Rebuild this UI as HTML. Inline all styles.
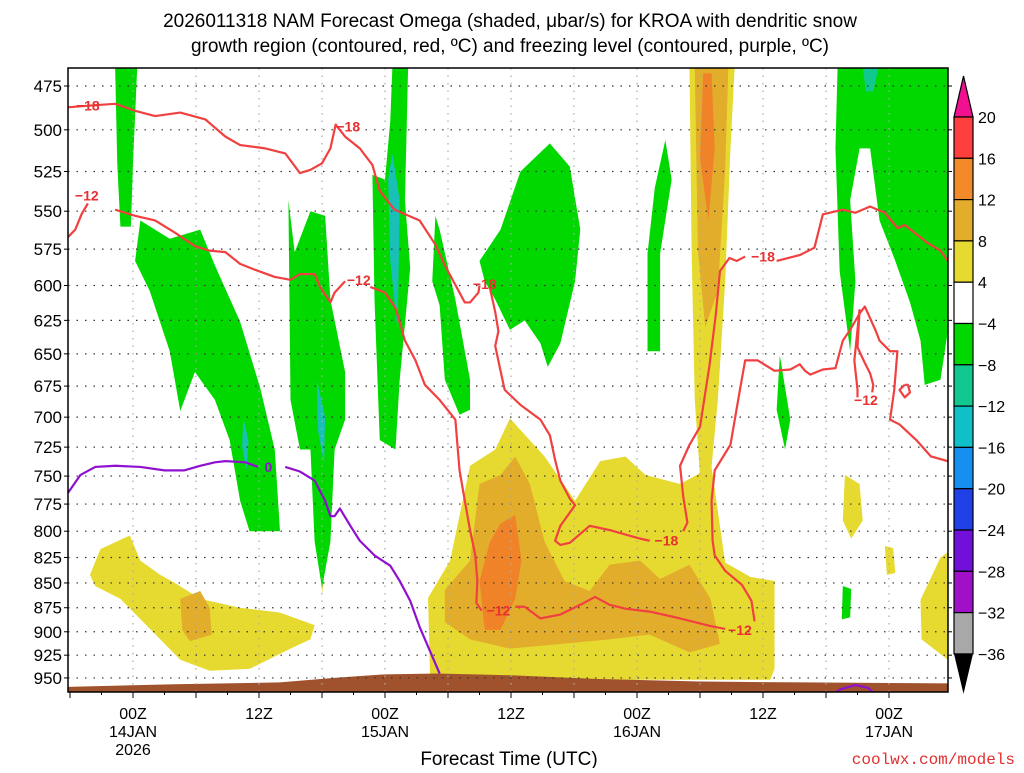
<!DOCTYPE html>
<html><head><meta charset="utf-8"><style>
body{margin:0;background:#fff;width:1024px;height:768px;overflow:hidden}
svg{font-family:"Liberation Sans",sans-serif}
</style></head><body>
<svg id="chart" width="1024" height="768" xmlns="http://www.w3.org/2000/svg">
<text x="510" y="27" text-anchor="middle" font-size="19">2026011318 NAM Forecast Omega (shaded, μbar/s) for KROA with dendritic snow</text>
<text x="510" y="52" text-anchor="middle" font-size="19">growth region (contoured, red, ºC) and freezing level (contoured, purple, ºC)</text>
<g id="fills"></g><g id="grid"></g><g id="contours"></g><g id="axes"></g><g id="cbar"></g>
<text x="509" y="765" text-anchor="middle" font-size="19">Forecast Time (UTC)</text>
<text x="1015" y="764" text-anchor="end" font-size="16" fill="#e03030" font-family="Liberation Mono, monospace">coolwx.com/models</text>
</svg>
<script>
const NS='http://www.w3.org/2000/svg';
const pressureTicks=[475,500,525,550,575,600,625,650,675,700,725,750,775,800,825,850,875,900,925,950];
const timeTicks=[6,18,30,42,54,66,78];
const timeLabels=[['00Z','14JAN','2026'],['12Z'],['00Z','15JAN'],['12Z'],['00Z','16JAN'],['12Z'],['00Z','17JAN']];
const cbarLevels=[20,16,12,8,4,-4,-8,-12,-16,-20,-24,-28,-32,-36];
const cbarColors=['#ff3e3e','#f28a2a','#e3ad2c','#e6da30','#ffffff','#00d800','#10c890','#10c0c8','#1590f0','#2040e8','#7010d8','#a010c8','#a8a8a8'];
// shaded regions: [color, hours[], pressures[]]
const regGreen1H=[4.3,6.4,6.0,5.8,4.8,4.5], regGreen1P=[465,465,520,560,560,520];
const regGreen2H=[6.7,9.5,12.4,13.8,16.2,18.1,19.5,20,17.1,16.2,15.2,13.8,11.9,10.5,9.5,7.6,6.2], regGreen2P=[556,568,562,586,626,676,727,800,800,772,719,686,664,695,648,604,583];
const regGreen3H=[20.8,21.4,22.9,24.3,24.8,26.2,26.2,25.2,24.8,24,23.3,22.9,21.9,21], regGreen3P=[543,577,550,553,610,664,702,727,810,855,810,727,727,686];
const regGreen4H=[30.7,32.2,31.9,32.4,31.4,31,29.5,29,28.8,30,30.5], regGreen4P=[465,465,543,588,670,727,719,610,527,530,495];
const regGreen5H=[34.8,35.2,36.7,38.1,38.1,37.1,35.7,35.2,34.5], regGreen5P=[553,562,610,670,694,698,670,614,597];
const regGreen6H=[41,42.9,45.7,47.6,48.6,48.1,46.7,45.5,44.8,43.3,41.9,40.5,39.5,39], regGreen6P=[562,525,508,522,562,597,642,660,642,625,632,610,597,583];
const regGreen7H=[56.7,57.3,56.2,56.2,55,55,55.7], regGreen7P=[506,530,578,648,648,578,535];
const regGreen8H=[73.1,83.6,83.6,82.9,81.4,81,80,78.6,77.1,76.2,75.2,74.3,74.8,74.3,73.3,72.9], regGreen8P=[465,465,633,670,674,640,612,583,556,511,511,543,597,648,590,511];
const regGreen9H=[67.6,68.6,68.1,67.3], regGreen9P=[651,702,727,694];
const regGreen10H=[73.6,74.4,74.3,73.5], regGreen10P=[853,856,885,887];
const regCyan1H=[30.7,31.4,31.2,30.5,30.3], regCyan1P=[514,543,633,583,530];
const regCyan2H=[16.5,17,16.8,16.4], regCyan2P=[700,720,745,725];
const regCyan3H=[23.5,24.3,24.2,23.6], regCyan3P=[670,700,740,710];
const regTealH=[75.5,77,76.5,75.8], regTealP=[465,465,478,478];
const regYel1H=[59,63.3,62.9,62.4,61.7,61.1,60,59.5,59.2], regYel1P=[465,465,511,597,686,742,750,686,576];
const regYel2H=[34.3,34.1,36.2,38.1,40.5,41.9,45.2,48.1,50.5,52.9,54.8,58.1,61.1,62.4,64.8,67.1,67.1,66.7], regYel2P=[952,865,828,741,727,701,733,772,737,733,749,757,742,830,844,848,940,952];
const regYel3H=[1.9,2.9,5.7,6.7,8.6,10,12.4,16.2,20,23.3,22.9,21,17.1,13.3,10.5,8.6,4.8,2.4], regYel3P=[842,817,804,828,842,850,866,875,880,893,908,918,940,942,930,908,866,853];
const regYel4H=[73.8,75.2,75.5,74.4,73.6], regYel4P=[749,757,790,807,790];
const regYel5H=[77.6,78.4,78.6,77.8], regYel5P=[814,816,840,842];
const regYel6H=[82.9,83.6,83.6,81.1,81], regYel6P=[825,820,930,908,867];
const regYel7H=[23.8,24.2,24.0], regYel7P=[818,845,862];
const regAmb1H=[10.5,12.4,13.3,13.5,11.4,10.7], regAmb1P=[866,858,875,903,910,898];
const regAmb2H=[59.5,62.7,62.4,61.7,60.5,59.8], regAmb2P=[465,465,524,604,630,576];
const regAmb3H=[39,41,42.4,43.8,45.2,47.1,49.5,51.4,54.3,56.2,59,61,61.9,59,55.2,51.4,46.7,41.9,38.1,35.7,35.7,38.1], regAmb3P=[757,749,733,757,810,848,858,832,828,846,832,866,913,922,903,908,913,918,908,890,857,828];
const regOr1H=[40,41,42.4,43,42.4,41,39.5,39], regOr1P=[810,793,785,828,866,898,898,848];
const regOr2H=[60.3,61.1,61.4,60.8,60], regOr2P=[468,468,511,556,517];
const groundH=[-0.2,10,20,25,30,35,42,50,60,70,83.6,83.6,-0.2], groundP=[960,957,955,950,946,945,947,951,954,955,956,968,968];
// contours
const c18aH=[-0.2,1.9,4.3,6.2,8.1,10.5,12.9,14.8,16.2,18.6,20.5,21.9,22.9,24,24.8,25.3,26.2,27.6,28.8,29.5,30.9,33.3,34.8,35.7,37.6,38.1,38.9,39.0], c18aP=[487,486,485,489,492,490,494,504,509,511,514,526,524,520,511,497,504,511,521,537,549,556,572,586,612,612,605,600];
const c18bH=[40.0,40.5,40.8,40.5,41,41.4,42.9,44.8,45.7,46.2,46.7,47.6,48.1,46.7,46.2,46.7,47.6,49.5,51.4,54.3,55.2], c18bP=[602,619,633,644,663,678,690,702,715,736,754,770,776,795,809,813,811,795,799,807,809];
const c18cH=[58.4,58.8,58.4,58.1,59.0,60,60.9,61.5,61.9,62.8,63.5,64.3], c18cP=[800,792,768,741,723,708,659,621,590,581,583,580];
const c18dH=[67.3,69.5,70.9,71.7,73.6,74.8,76.2,77.6,78.8,79.5,81.7,82.9,83.6], c18dP=[583,579,574,552,549,551,547,551,561,559,571,576,583];
const c12aH=[-0.2,0.5,1.1,1.7], c12aP=[567,562,552,545];
const c12bH=[4.3,6.2,8.1,10,11.9,13.3,14.8,16.2,17.6,19.5,21,21.9,23.3,23.8,24.8,25.2,26.2], c12bP=[549,553,556,564,573,576,577,585,589,594,596,592,592,601,612,605,597];
const c12cH=[28.6,30,31,31.9,32.9,33.8,35.2,36.7,37.1,37.6,38.1,38.6,38.8,38.7,39.2], c12cP=[601,605,616,640,655,674,686,702,745,772,799,823,848,870,878];
const c12dH=[42.4,43.3,44.8,46.7,48.6,50,51.4,52.9,55.2,58.1,61,62.4], c12dP=[874,874,886,882,872,864,872,876,879,886,894,897];
const c12eH=[65.2,64.9,64,62.4,61.4,61.2,61.1,61.4,62.9,63.8,64.3,65.5,67.1,68.6,69.5,70,70.5,71.7,72.9,73.6,74.3,75.2,75.7,76.7,77.1,78.1,78.8,78.5,78.1,79,80.6,82,83.6], c12eP=[889,868,852,838,823,809,772,745,723,678,655,655,663,662,658,663,666,662,661,640,632,620,615,632,640,648,648,678,702,706,719,733,737];
const c12fH=[75.2,74.7,75.0,75.0], c12fP=[617,655,678,684];
const c12gH=[76.4,76.5,76.2,75.7,75.0,75.2], c12gP=[680,674,665,657,645,617];
const c12hH=[79.5,79.0,79.5,80,79.8,79.5], c12hP=[674,678,684,680,674,674];
const c0aH=[-0.2,1,2.4,4.3,6.7,9,10.9,12.4,13.8,14.8,16.7,17.9], c0aP=[765,749,742,741,742,745,745,741,738,737,738,742];
const c0bH=[20.5,21.9,23.3,24.3,24.8,25.2,25.7,26.7,27.6,29,30.5,31.4,32.4,33.3,34.3,35.2], c0bP=[742,746,754,772,786,786,779,795,809,823,833,848,868,895,921,945];
const c0cH=[72.4,73.3,74.8,76,77], c0cP=[972,963,958,961,972];
const contourLabels=[['-18',1.7,486,'#e83030'],['-18',26.5,498,'#e83030'],['-12',1.6,540,'#e83030'],['-12',27.5,596,'#e83030'],['-18',39.5,599,'#e83030'],['-12',40.8,878,'#e83030'],['-18',56.8,809,'#e83030'],['-12',63.8,898,'#e83030'],['-18',66.0,580,'#e83030'],['-12',75.8,686,'#e83030'],['0',18.9,742,'#9010d0']];

const X0=70, PXH=10.5, L=68, R=948, T=68, B=692;
const xs=h=>X0+h*PXH;
const ys=p=>86+854*Math.log(p/475);
function el(tag,attrs,parent){const e=document.createElementNS(NS,tag);for(const k in attrs)e.setAttribute(k,attrs[k]);parent.appendChild(e);return e;}
const clip=el('clipPath',{id:'pc'},document.getElementById('chart'));
el('rect',{x:L,y:T,width:R-L,height:B-T},clip);
const fills=document.getElementById('fills');fills.setAttribute('clip-path','url(#pc)');
function poly(H,P,color,name){const e=el('polygon',{points:H.map((h,i)=>xs(h)+','+ys(P[i])).join(' '),fill:color},fills);

}
const G='#00d800',Y='#e6da30',A='#e3ad2c',O='#f08328',C='#18c0b8',TE='#10c890';
poly(regYel1H,regYel1P,Y,'omega-region');poly(regYel2H,regYel2P,Y,'omega-region');poly(regYel3H,regYel3P,Y,'omega-region');
poly(regYel4H,regYel4P,Y,'omega-region');poly(regYel5H,regYel5P,Y,'omega-region');poly(regYel6H,regYel6P,Y,'omega-region');poly(regYel7H,regYel7P,Y,'omega-region');
poly(regAmb1H,regAmb1P,A,'omega-region');poly(regAmb2H,regAmb2P,A,'omega-region');poly(regAmb3H,regAmb3P,A,'omega-region');
poly(regOr1H,regOr1P,O,'omega-region');poly(regOr2H,regOr2P,O,'omega-region');
[[regGreen1H,regGreen1P],[regGreen2H,regGreen2P],[regGreen3H,regGreen3P],[regGreen4H,regGreen4P],[regGreen5H,regGreen5P],[regGreen6H,regGreen6P],[regGreen7H,regGreen7P],[regGreen8H,regGreen8P],[regGreen9H,regGreen9P],[regGreen10H,regGreen10P]].forEach(r=>poly(r[0],r[1],G,'omega-region'));
poly(regCyan1H,regCyan1P,C,'omega-region');poly(regCyan2H,regCyan2P,C,'omega-region');poly(regCyan3H,regCyan3P,C,'omega-region');poly(regTealH,regTealP,TE,'omega-region');
poly(groundH,groundP,'#a0522d','terrain-ground');
// grid
const grid=document.getElementById('grid');
pressureTicks.forEach(p=>{const l=el('line',{x1:L,x2:R,y1:ys(p),y2:ys(p),stroke:'#333','stroke-width':1.2,'stroke-dasharray':'1.5 7'},grid);

});
for(let h=6;h<=78;h+=6){const l=el('line',{x1:xs(h),x2:xs(h),y1:T,y2:B,stroke:'#aaa','stroke-width':1.2,'stroke-dasharray':'1.5 6'},grid);

}
// contours
const cg=document.getElementById('contours');cg.setAttribute('clip-path','url(#pc)');
function line(H,P,color,name){const e=el('polyline',{points:H.map((h,i)=>xs(h)+','+ys(P[i])).join(' '),fill:'none',stroke:color,'stroke-width':2.2,'stroke-linejoin':'round'},cg);

}
const RC='#f04040',PC='#9010d0';
[[c18aH,c18aP],[c18bH,c18bP],[c18cH,c18cP],[c18dH,c18dP]].forEach(c=>line(c[0],c[1],RC,'contour-minus18'));
[[c12aH,c12aP],[c12bH,c12bP],[c12cH,c12cP],[c12dH,c12dP],[c12eH,c12eP],[c12fH,c12fP],[c12gH,c12gP],[c12hH,c12hP]].forEach(c=>line(c[0],c[1],RC,'contour-minus12'));
[[c0aH,c0aP],[c0bH,c0bP],[c0cH,c0cP]].forEach(c=>line(c[0],c[1],PC,'freezing-level-contour'));
contourLabels.forEach(c=>{const t=el('text',{x:xs(c[1]),y:ys(c[2])+5,'text-anchor':'middle','font-size':14,'font-weight':'bold',fill:c[3]},document.getElementById('chart'));t.textContent=c[0].replace('-','−');

});
// axes
const ax=document.getElementById('axes');
const fr=el('rect',{x:L,y:T,width:R-L,height:B-T,fill:'none',stroke:'#000','stroke-width':1.5},ax);


pressureTicks.forEach(p=>{el('line',{x1:L-4,x2:L,y1:ys(p),y2:ys(p),stroke:'#000'},ax);el('line',{x1:R,x2:R+4,y1:ys(p),y2:ys(p),stroke:'#000'},ax);
const t=el('text',{x:L-6,y:ys(p)+6,'text-anchor':'end','font-size':17},ax);t.textContent=p;

});
for(let h=0;h<=78;h+=3){el('line',{x1:xs(h),x2:xs(h),y1:B,y2:B+(h%6==0?6:3),stroke:'#000'},ax);}
timeTicks.forEach((h,i)=>{timeLabels[i].forEach((s,j)=>{const t=el('text',{x:xs(h),y:719+j*18,'text-anchor':'middle','font-size':16},ax);t.textContent=s;

});});
// colorbar
const cb=document.getElementById('cbar');
const cx=954,cw=19,ctop=117,bh=41.3;
const tri=el('polygon',{points:`${cx},${ctop} ${cx+cw},${ctop} ${cx+cw/2},76`,fill:'#f01090',stroke:'#000','stroke-width':1.2},cb);


cbarColors.forEach((c,i)=>{const r=el('rect',{x:cx,y:ctop+i*bh,width:cw,height:bh,fill:c,stroke:'#000','stroke-width':1.2},cb);

});
const yb=ctop+cbarColors.length*bh;
const tri2=el('polygon',{points:`${cx},${yb} ${cx+cw},${yb} ${cx+cw/2},${yb+40}`,fill:'#000'},cb);


cbarLevels.forEach((v,i)=>{const t=el('text',{x:978,y:ctop+i*bh+6,'font-size':16},cb);t.textContent=v<0?'−'+(-v):v;

});
</script>
</body></html>
